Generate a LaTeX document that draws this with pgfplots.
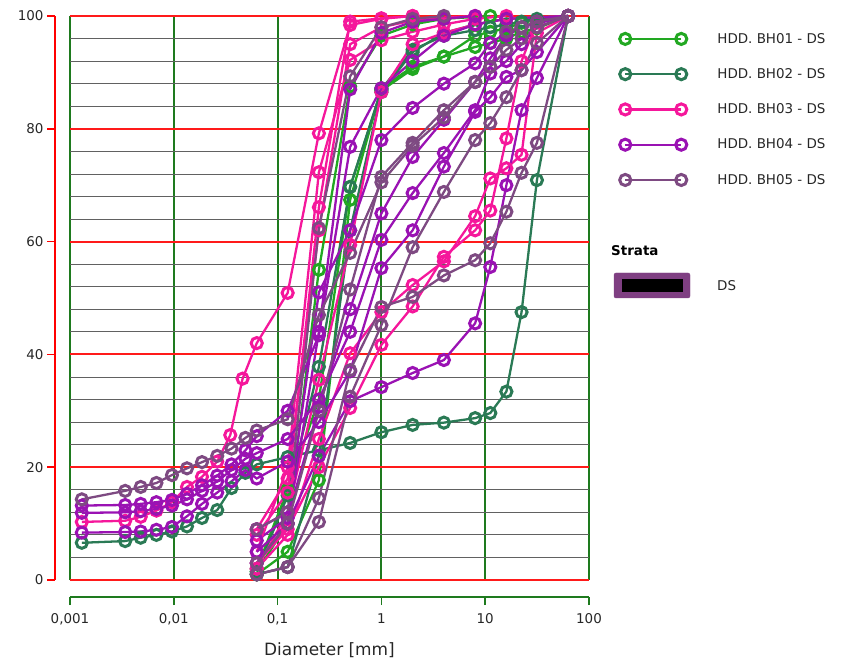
\documentclass[border=0pt]{standalone}
\usepackage{fontspec}
\setmainfont{DejaVu Sans}
\usepackage{pgfplots}
\pgfplotsset{compat=1.18}
\definecolor{cA}{HTML}{22A822}
\definecolor{cB}{HTML}{2A7A55}
\definecolor{cC}{HTML}{F5179B}
\definecolor{cD}{HTML}{9A12B3}
\definecolor{cE}{HTML}{7E4A82}
\definecolor{gridG}{HTML}{1E7A1E}
\definecolor{gridR}{HTML}{FF1A1A}
\definecolor{cStr}{HTML}{7F3F82}
\pgfplotsset{
 bh/.style={line width=2.3pt, mark=o, mark size=5.6pt, every mark/.append style={line width=3pt, solid}},
 bhA/.style={bh, color=cA},
 bhB/.style={bh, color=cB},
 bhC/.style={bh, color=cC},
 bhD/.style={bh, color=cD},
 bhE/.style={bh, color=cE},
}
\begin{document}
\begin{tikzpicture}
\path[use as bounding box] (-70bp,-80bp) rectangle (778bp,580bp);
\begin{axis}[
 scale only axis, width=519bp, height=564bp,
 xmode=log, log basis x=10,
 xmin=0.001, xmax=100, ymin=0, ymax=100,
 xtick={0.001,0.01,0.1,1,10,100},
 xticklabels={0{,}001,0{,}01,0{,}1,1,10,100},
 ytick={0,20,40,60,80,100},
 yticklabels={0,20,40,60,80,100},
 minor y tick num=4,
 xmajorgrids, xminorgrids, ymajorgrids, yminorgrids,
 major x grid style={gridG, line width=1.9pt},
 minor x grid style={black!22, line width=0.6pt},
 major y grid style={gridR, line width=1.9pt},
 minor y grid style={black!62, line width=0.8pt},
 axis x line*=bottom, axis y line*=left,
 axis x line shift=17bp, axis y line shift=15bp,
 x axis line style={gridG, line width=1.9pt, -},
 y axis line style={red, line width=1.9pt, -},
 tick align=outside,
 major tick length=8bp, minor tick length=3bp,
 xtick style={gridG, line width=1.6pt},
 minor x tick style={black!40, line width=0.6pt},
 ytick style={red, line width=1.6pt},
 minor y tick style={draw=none},
 tick label style={font=\fontsize{13.5}{16}\selectfont, text=black!85},
 xticklabel style={yshift=-5bp},
 xlabel={Diameter [mm]},
 xlabel style={font=\fontsize{17}{20}\selectfont, text=black!85, yshift=-11bp},
 clip=false,
 legend cell align=left,
 legend style={at={(1,1)}, anchor=north west, xshift=26bp, yshift=-13bp, draw=none, fill=none,
   font=\fontsize{13.5}{16}\selectfont, row sep=19.8bp, text=black!85},
 legend image code/.code={
   \draw[#1, mark=none] (0bp,0bp) -- (56bp,0bp);
   \draw[#1, mark=none, line width=3pt] (0bp,0bp) circle (5.6pt) (56bp,0bp) circle (5.6pt);
   \path (89bp,0bp);
 },
]
% ---------- BH01 ----------
\addplot[bhA] coordinates {(0.063,1.5)(0.125,10)(0.25,55)(0.5,87.5)(1,96.5)(2,98.5)(4,99.5)(11.2,100)};
\addlegendentry{HDD. BH01 - DS}
\addplot[bhA, forget plot] coordinates {(0.063,1)(0.125,5)(0.25,17.7)(0.5,67.4)(1,87.2)(2,91)(4,92.8)(8,94.5)(11.2,95.2)(16,96)(22.4,97.2)(31.5,97.8)(63,100)};
\addplot[bhA, forget plot] coordinates {(0.063,2)(0.125,16)(0.25,32)(0.5,69.7)(1,86.8)(2,90.6)(4,92.8)(8,96.5)(11.2,97.2)(16,97.8)(22.4,98.8)(31.5,99.3)(63,100)};
% ---------- BH02 ----------
\addplot[bhB] coordinates {(0.0013,6.6)(0.0034,6.9)(0.0048,7.5)(0.0068,8.0)(0.0096,8.6)(0.0134,9.5)(0.0187,11.0)(0.0262,12.4)(0.036,16.3)(0.049,19.0)(0.063,20.5)(0.125,21.8)(0.25,23)(0.5,24.3)(1,26.2)(2,27.5)(4,27.9)(8,28.7)(11.2,29.6)(16,33.4)(22.4,47.5)(31.5,70.9)(63,100)};
\addlegendentry{HDD. BH02 - DS}
\addplot[bhB, forget plot] coordinates {(0.063,1.5)(0.125,15)(0.25,37.8)(0.5,69.7)(1,87)(2,94)(4,96.5)(8,97.5)(11.2,98)(16,98.5)(22.4,99)(31.5,99.5)(63,100)};
\addplot[bhB, forget plot] coordinates {(0.063,1)(0.125,2.3)(0.25,22)(0.5,62)(1,86.5)(2,93.6)(4,97)(8,98.5)(16,99.5)(63,100)};
% ---------- BH03 ----------
\addplot[bhC] coordinates {(0.0013,10.3)(0.0034,10.5)(0.0048,11.2)(0.0068,12.3)(0.0096,13.8)(0.0134,16.5)(0.0187,18.3)(0.0262,21.0)(0.035,25.7)(0.046,35.7)(0.063,42)(0.125,50.9)(0.25,79.2)(0.5,98.4)(1,99.5)(2,100)};
\addlegendentry{HDD. BH03 - DS}
\addplot[bhC, forget plot] coordinates {(0.063,5)(0.125,20)(0.25,72.3)(0.5,92.2)(1,95.7)(2,97.2)(4,98.5)(8,99.5)(16,100)};
\addplot[bhC, forget plot] coordinates {(0.063,8)(0.125,15.5)(0.25,66.1)(0.5,99)(1,99.6)(2,100)};
\addplot[bhC, forget plot] coordinates {(0.063,2)(0.125,12)(0.25,35.5)(0.5,59.4)(1,86.5)(2,95)(4,97)(8,98.5)(16,99.5)(63,100)};
\addplot[bhC, forget plot] coordinates {(0.063,3)(0.125,9)(0.25,20)(0.5,30.5)(1,41.7)(2,48.5)(4,57.3)(8,62)(11.2,65.5)(16,78.3)(22.4,92)(31.5,99)(63,100)};
\addplot[bhC, forget plot] coordinates {(0.063,2)(0.125,8)(0.25,25)(0.5,40.2)(1,47.5)(2,52.3)(4,56.5)(8,64.5)(11.2,71.2)(16,73)(22.4,75.4)(31.5,97)(63,100)};
\addplot[bhC, forget plot] coordinates {(0.063,9)(0.125,18)(0.25,62)(0.5,95)(1,98)(2,99.2)(4,99.7)(8,100)};
% ---------- BH04 ----------
\addplot[bhD] coordinates {(0.0013,13.2)(0.0034,13.3)(0.0048,13.5)(0.0068,13.8)(0.0096,14.2)(0.0134,15.3)(0.0187,16.8)(0.0262,18.5)(0.036,20.5)(0.049,23.0)(0.063,25.5)(0.125,30)(0.25,43.4)(0.5,76.8)(1,87.2)(2,92)(4,96.5)(8,98.5)(16,99.5)(63,100)};
\addlegendentry{HDD. BH04 - DS}
\addplot[bhD, forget plot] coordinates {(0.0013,11.9)(0.0034,12.0)(0.0048,12.2)(0.0068,12.6)(0.0096,13.2)(0.0134,14.3)(0.0187,15.8)(0.0262,17.5)(0.036,19.5)(0.049,21.5)(0.063,22.5)(0.125,25)(0.25,32)(0.5,44)(1,60.3)(2,68.6)(4,75.7)(8,83.3)(11.2,89.8)(16,92)(22.4,95)(31.5,98)(63,100)};
\addplot[bhD, forget plot] coordinates {(0.0013,8.4)(0.0034,8.5)(0.0048,8.6)(0.0068,8.9)(0.0096,9.4)(0.0134,11.3)(0.0187,13.5)(0.0262,15.5)(0.036,17.5)(0.049,19.5)(0.063,18)(0.125,21)(0.25,28)(0.5,37)(1,55.3)(2,62)(4,73.3)(8,83)(11.2,85.6)(16,89.2)(22.4,90.4)(31.5,93.6)(63,100)};
\addplot[bhD, forget plot] coordinates {(0.063,5)(0.125,10)(0.25,22)(0.5,31.7)(1,34.2)(2,36.7)(4,39)(8,45.5)(11.2,55.5)(16,70)(22.4,83.3)(31.5,89)(63,100)};
\addplot[bhD, forget plot] coordinates {(0.063,9)(0.125,12)(0.25,51)(0.5,62)(1,78)(2,83.7)(4,88)(8,91.6)(11.2,95.2)(16,97)(31.5,99)(63,100)};
\addplot[bhD, forget plot] coordinates {(0.063,7)(0.125,11)(0.25,30.7)(0.5,48)(1,65)(2,75)(4,81.6)(8,88.3)(11.2,92.5)(16,96.5)(22.4,98)(63,100)};
\addplot[bhD, forget plot] coordinates {(0.063,3)(0.125,10)(0.25,44)(0.5,87)(1,97)(2,99)(4,99.5)(8,100)};
% ---------- BH05 ----------
\addplot[bhE] coordinates {(0.0013,14.3)(0.0034,15.8)(0.0048,16.5)(0.0068,17.2)(0.0096,18.6)(0.0134,19.8)(0.0187,20.9)(0.0262,22.0)(0.036,23.3)(0.049,25.2)(0.063,26.5)(0.125,28.5)(0.25,47)(0.5,58)(1,70.5)(2,77)(4,82)(8,88.3)(11.2,91)(16,94)(22.4,96)(31.5,98)(63,100)};
\addlegendentry{HDD. BH05 - DS}
\addplot[bhE, forget plot] coordinates {(0.063,1)(0.125,2.3)(0.25,10.3)(0.5,32.5)(1,45.2)(2,59)(4,68.8)(8,78)(11.2,81)(16,85.6)(22.4,90.4)(31.5,95.2)(63,100)};
\addplot[bhE, forget plot] coordinates {(0.063,1)(0.125,2.3)(0.25,14.5)(0.5,37.2)(1,48.4)(2,50.2)(4,54)(8,56.7)(11.2,59.7)(16,65.3)(22.4,72.2)(31.5,77.5)(63,100)};
\addplot[bhE, forget plot] coordinates {(0.063,9)(0.125,12)(0.25,62.4)(0.5,89.3)(1,98)(2,99.5)(4,100)};
\addplot[bhE, forget plot] coordinates {(0.063,3)(0.125,10)(0.25,30)(0.5,51.5)(1,71.5)(2,77.5)(4,83.3)(8,88.3)(11.2,91)(16,97.2)(22.4,98)(31.5,99)(63,100)};
\end{axis}
\node[anchor=west, font=\bfseries\fontsize{13.5}{16}\selectfont, inner sep=0pt] at (541bp,329bp) {Strata};
\draw[fill=cStr, draw=cStr, rounded corners=2bp] (544bp,282bp) rectangle (620bp,307bp);
\fill[black] (552bp,288bp) rectangle (613bp,301bp);
\node[anchor=west, font=\fontsize{13.5}{16}\selectfont, text=black!85, inner sep=0pt] at (647bp,294bp) {DS};
\end{tikzpicture}
\end{document}
